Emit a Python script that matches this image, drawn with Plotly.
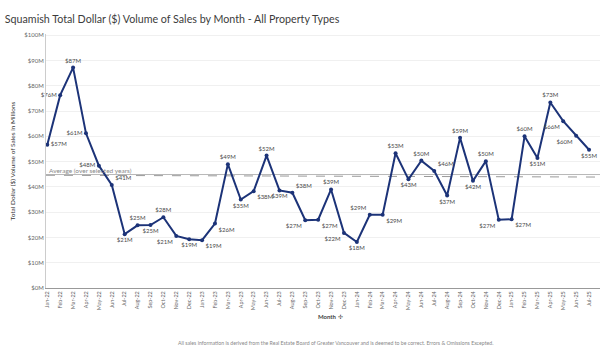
import plotly.graph_objects as go

months = ["Jan-22","Feb-22","Mar-22","Apr-22","May-22","Jun-22","Jul-22","Aug-22","Sep-22","Oct-22","Nov-22","Dec-22",
          "Jan-23","Feb-23","Mar-23","Apr-23","May-23","Jun-23","Jul-23","Aug-23","Sep-23","Oct-23","Nov-23","Dec-23",
          "Jan-24","Feb-24","Mar-24","Apr-24","May-24","Jun-24","Jul-24","Aug-24","Sep-24","Oct-24","Nov-24","Dec-24",
          "Jan-25","Feb-25","Mar-25","Apr-25","May-25","Jun-25","Jul-25"]
volume_m = [56.7, 76.3, 87.2, 61.2, 48.4, 40.8, 21.3, 24.8, 24.9, 28.0, 20.6, 19.3,
            18.9, 25.5, 49.0, 35.0, 38.3, 52.4, 38.6, 37.7, 26.8, 27.0, 39.0, 21.8,
            18.2, 29.0, 29.0, 53.3, 43.0, 50.4, 46.3, 36.6, 59.4, 42.4, 50.2, 27.0,
            27.2, 60.0, 51.4, 73.4, 66.0, 60.2, 54.7]
label_pos = ["middle right","middle left","top center","middle left","middle left","top right","bottom center","top center","bottom center","top center","bottom left","bottom center",
             "bottom right","bottom right","top center","bottom center","bottom right","top center","bottom center","top right","bottom left","bottom right","top center","bottom left",
             "bottom center","top left","bottom right","top center","bottom center","top center","top right","bottom center","top center","bottom center","top center","bottom left",
             "bottom right","top center","bottom center","top center","bottom left","bottom left","bottom center"]
average_m = 44.9
trend_start_m = 44.6
trend_end_m = 43.9
y_ticks = [0, 10, 20, 30, 40, 50, 60, 70, 80, 90, 100]

FONT = "Lato"
idx = list(range(len(months)))
labels = ["$%dM" % round(v) for v in volume_m]

fig = go.Figure()
fig.add_trace(go.Scatter(x=[idx[0] - 0.1, idx[-1] + 0.9], y=[average_m, average_m], mode="lines",
                         line=dict(color="#b8b8b8", width=1), hoverinfo="skip", showlegend=False))
fig.add_trace(go.Scatter(x=[idx[0] - 0.1, idx[-1] + 0.9], y=[trend_start_m, trend_end_m], mode="lines",
                         line=dict(color="#9a9a9a", width=1, dash="dash"), hoverinfo="skip", showlegend=False))
fig.add_trace(go.Scatter(x=idx, y=volume_m, mode="lines+markers+text", cliponaxis=False,
                         line=dict(color="#1c3378", width=2), marker=dict(size=4, color="#1c3378"),
                         text=labels, textposition=label_pos,
                         textfont=dict(family=FONT, size=6, color="#4a4a4a"), showlegend=False))

fig.add_annotation(x=0, y=average_m, xref="x", yref="y", text="Average (over selected years)",
                   showarrow=False, xanchor="left", yanchor="bottom", yshift=-1,
                   font=dict(family=FONT, size=6.5, color="#888888"))

fig.update_layout(
    width=605, height=354,
    margin=dict(l=46, r=5, t=34, b=66),
    paper_bgcolor="white", plot_bgcolor="white",
    title=dict(text="Squamish Total Dollar ($) Volume of Sales by Month - All Property Types",
               x=0.008, xanchor="left", y=0.945, yanchor="middle",
               font=dict(family=FONT, size=10.7, color="#3c3c3c")),
    xaxis=dict(range=[-0.1, 42.85], tickmode="array", tickvals=idx, ticktext=months,
               tickangle=-90, tickfont=dict(family=FONT, size=5.5, color="#666666"),
               showgrid=False, zeroline=False, showline=True, linecolor="#999999", linewidth=1,
               ticks="", fixedrange=True),
    yaxis=dict(range=[0, 100.5], tickmode="array", tickvals=y_ticks,
               ticktext=["$%dM" % v for v in y_ticks],
               tickfont=dict(family=FONT, size=6, color="#666666"),
               showgrid=True, gridcolor="#f0f0f0", zeroline=False, showline=True,
               linecolor="#cccccc", linewidth=1, ticks="",
               title=dict(text="Total Dollar ($) Volume of Sales in Millions",
                          font=dict(family=FONT, size=6.5, color="#333333"), standoff=8)),
)

fig.add_annotation(x=0.488, y=-0.09, xref="paper", yref="paper", text="<b>Month</b> ✢", showarrow=False,
                   xanchor="left", yanchor="top", font=dict(family=FONT, size=6, color="#444444"))
fig.add_annotation(x=0.523, y=-0.215, xref="paper", yref="paper",
                   text="All sales information is derived from the Real Estate Board of Greater Vancouver and is deemed to be correct. Errors & Omissions Excepted.",
                   showarrow=False, xanchor="center", yanchor="middle",
                   font=dict(family=FONT, size=5.2, color="#888888"))

fig.write_html("out.html")
